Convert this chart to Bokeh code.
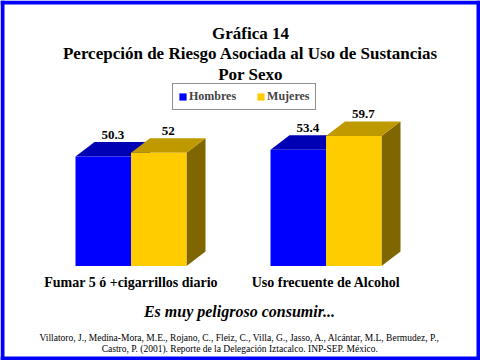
from bokeh.plotting import figure
from bokeh.models import Range1d, ColumnDataSource, Label, Legend, LegendItem, BoxAnnotation
from bokeh.core.properties import value
from bokeh.embed import file_html
from bokeh.resources import INLINE

# ---- data ----
categories = ["Fumar 5 ó +cigarrillos diario", "Uso frecuente de Alcohol"]
series = ["Hombres", "Mujeres"]
hombres = [50.3, 53.4]
mujeres = [52.0, 59.7]
value_labels_h = ["50.3", "53.4"]
value_labels_m = ["52", "59.7"]
title_lines = ["Gráfica 14", "Percepción de Riesgo Asociada al Uso de Sustancias", "Por Sexo"]
subtitle = "Es muy peligroso consumir..."
source_lines = [
    "Villatoro, J., Medina-Mora, M.E., Rojano, C., Fleiz, C., Villa, G., Jasso, A., Alcántar, M.L, Bermudez, P.,",
    "Castro, P. (2001). Reporte de la Delegación Iztacalco. INP-SEP. México.",
]

# ---- styling / layout ----
W, H = 480, 360
SCALE = 2.178          # px per unit
BASE_PX = 94.5         # px from bottom of frame to zero
FIRST_CENTER = 130.5
GROUP_SPACING = 195.0
BAR_W = 55.5
DX = 19.0              # depth offset px
DY = 14.5 / SCALE      # depth offset in value units
BLUE, BLUE_TOP = "#0000FF", "#0000B4"
YEL, YEL_TOP, YEL_SIDE = "#FFCC00", "#BF9900", "#806600"
SERIF = "Liberation Serif"

p = figure(width=W, height=H, output_backend="svg", toolbar_location=None,
           x_range=Range1d(0, W), y_range=Range1d(-BASE_PX / SCALE, (H - BASE_PX) / SCALE),
           min_border=0, outline_line_color=None)
p.axis.visible = False
p.grid.visible = False
p.background_fill_color = "white"
p.border_fill_color = "white"

centers = [FIRST_CENTER + i * GROUP_SPACING for i in range(len(categories))]


def bar_sources(vals, offset):
    left = [c + offset * BAR_W - BAR_W for c in centers]
    right = [l + BAR_W for l in left]
    front = ColumnDataSource(dict(left=left, right=right, top=vals, bottom=[0] * len(vals)))
    top_xs = [[l, l + DX, r + DX, r] for l, r in zip(left, right)]
    top_ys = [[v, v + DY, v + DY, v] for v in vals]
    side_xs = [[r, r + DX, r + DX, r] for r in right]
    side_ys = [[0, DY, v + DY, v] for v in vals]
    return front, ColumnDataSource(dict(xs=top_xs, ys=top_ys)), ColumnDataSource(dict(xs=side_xs, ys=side_ys)), left, right


renderers = []
label_specs = []
for vals, off, colors, texts in [
    (hombres, 0, (BLUE, BLUE_TOP, "#000080"), value_labels_h),
    (mujeres, 1, (YEL, YEL_TOP, YEL_SIDE), value_labels_m),
]:
    front, top, side, left, right = bar_sources(vals, off)
    p.patches("xs", "ys", source=side, fill_color=colors[2], line_color=None)
    p.patches("xs", "ys", source=top, fill_color=colors[1], line_color=None)
    r = p.quad(left="left", right="right", top="top", bottom="bottom", source=front,
               fill_color=colors[0], line_color=None)
    renderers.append(r)
    lab_src = ColumnDataSource(dict(x=[(l + rr) / 2 + DX / 2 for l, rr in zip(left, right)],
                                    y=[v + DY for v in vals], t=texts))
    label_specs.append(lab_src)

for src in label_specs:
    p.text(x="x", y="y", text="t", source=src, text_align="center", text_baseline="bottom",
           y_offset=-3, text_font=value(SERIF), text_font_style="bold", text_font_size="13px",
           text_color="black")

# category labels
cat_src = ColumnDataSource(dict(x=centers, y=[0] * len(centers), t=categories))
p.text(x="x", y="y", text="t", source=cat_src, text_align="center", text_baseline="middle",
       y_offset=16.5, text_font=value(SERIF), text_font_style="bold", text_font_size="14px",
       text_color="black")

# titles
for txt, yy in zip(title_lines, [327, 307, 286.5]):
    p.add_layout(Label(x=250, y=yy, x_units="screen", y_units="screen", text=txt,
                       text_align="center", text_baseline="middle", text_font=SERIF,
                       text_font_style="bold", text_font_size="17px", text_color="black"))

p.add_layout(Label(x=239, y=49, x_units="screen", y_units="screen", text=subtitle,
                   text_align="center", text_baseline="middle", text_font=SERIF,
                   text_font_style="bold italic", text_font_size="16px", text_color="black"))
for txt, yy in zip(source_lines, [22.3, 11.7]):
    p.add_layout(Label(x=239.3, y=yy, x_units="screen", y_units="screen", text=txt,
                       text_align="center", text_baseline="middle", text_font=SERIF,
                       text_font_size="9.5px", text_color="black"))

legend = Legend(items=[LegendItem(label=s, renderers=[r]) for s, r in zip(series, renderers)],
                orientation="horizontal", location=(172, 250), glyph_width=9, glyph_height=9,
                label_text_font=SERIF, label_text_font_style="bold", label_text_font_size="12px",
                label_standoff=2, spacing=20, padding=5, margin=0, label_height=9,
                border_line_color="#222222", border_line_width=1.5, background_fill_alpha=1)
p.add_layout(legend)

# blue page frame
for kw in [dict(left=0, right=4), dict(left=W - 4, right=W), dict(bottom=0, top=4), dict(bottom=H - 4, top=H)]:
    units = {k + "_units": "screen" for k in kw}
    p.add_layout(BoxAnnotation(fill_color="#0000FF", fill_alpha=1, line_color=None, level="underlay",
                               **kw, **units))

open("out.html", "w").write(file_html(p, INLINE))
